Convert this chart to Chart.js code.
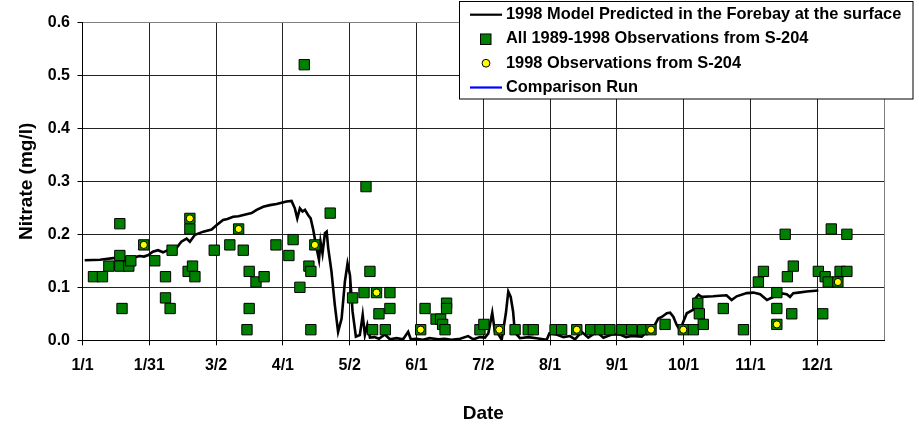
<!DOCTYPE html>
<html><head><meta charset="utf-8">
<script src="https://cdn.jsdelivr.net/npm/chart.js@4/dist/chart.umd.min.js"></script>
<style>html,body{margin:0;padding:0;background:#fff}canvas{display:block}</style>
</head><body>
<canvas id="c" width="919" height="426"></canvas>
<script>
// x axis: day of year (0 = 1/1)
const xTickLabels = ['1/1','1/31','3/2','4/1','5/2','6/1','7/2','8/1','9/1','10/1','11/1','12/1',''];
const xTickDays = [0,30.42,60.83,91.25,121.67,152.08,182.5,212.92,243.33,273.75,304.17,334.58,365];
const yTickValues = [0,0.1,0.2,0.3,0.4,0.5,0.6];
const yTickLabels = ['0.0','0.1','0.2','0.3','0.4','0.5','0.6'];

// 1998 Model Predicted in the Forebay at the surface
const modelDay = [1,8,14,20,24,26,28,30,32,34.4,36.7,39.8,42.8,45,47.4,48.9,51.2,55,58.8,61,64,66,68.6,71,74.7,77,79.3,82.3,85.3,88.4,92.9,95.2,96.7,97.8,99.0,100.2,101.3,102.8,103.9,105.1,106.3,107.7,108.4,109.3,110.4,111.2,111.9,113.4,114.9,116.4,118.0,119.5,120.7,121.8,123.0,124.5,126.3,127.6,128.6,129.7,130.9,133,135,137.7,140,143,146,148.3,149.5,152,155,158,162,165,168,172,175.6,178,181,183.3,184.8,186.6,187.8,189.3,190.9,192.8,193.9,195,196.1,196.9,199.2,203,206.8,211.4,212.6,215.9,219,222,224.3,227.3,230.3,234.2,237.2,241,244.8,247.5,250.1,254.7,257,260,262.2,263.8,266.1,267.6,269.1,270.6,272.1,273.6,275.2,278.2,279.3,280.5,282,287.2,290,293.3,295.6,297.9,302.5,305.5,308.6,311.7,314.7,317.7,320.7,322.2,323.7,326,329.8,335.1];
const modelNitrate = [0.151,0.152,0.155,0.156,0.157,0.159,0.158,0.161,0.167,0.170,0.166,0.172,0.174,0.186,0.192,0.186,0.199,0.205,0.209,0.217,0.227,0.229,0.233,0.234,0.238,0.240,0.246,0.252,0.255,0.257,0.262,0.263,0.249,0.230,0.249,0.243,0.246,0.236,0.230,0.208,0.180,0.152,0.186,0.164,0.202,0.205,0.174,0.129,0.067,0.016,0.041,0.111,0.145,0.123,0.054,0.007,0.010,0.048,0.010,0.029,0.005,0.006,0.003,0.011,0.002,0.004,0.002,0.016,0.002,0.003,0.001,0.004,0.002,0.003,0.001,0.003,0.008,0.002,0.006,0.005,0.013,0.052,0.016,0.012,0.001,0.051,0.092,0.082,0.054,0.015,0.004,0.006,0.004,0.001,0.013,0.011,0.006,0.008,0.002,0.016,0.005,0.016,0.005,0.011,0.011,0.006,0.008,0.007,0.016,0.024,0.041,0.044,0.051,0.052,0.044,0.029,0.019,0.035,0.051,0.058,0.080,0.086,0.082,0.083,0.084,0.085,0.076,0.083,0.089,0.090,0.087,0.076,0.082,0.089,0.087,0.082,0.089,0.090,0.092,0.094];

// All 1989-1998 Observations from S-204
const obsDay = [5.0,9.1,12.0,17.0,17.0,17.0,18.0,21.1,22.0,27.9,32.9,37.8,37.8,39.9,40.8,48.9,48.9,48.1,50.1,51.2,60.0,67.1,71.1,73.2,75.9,75.9,74.9,79.0,82.7,88.1,94.0,95.9,99.0,101.0,103.1,104.0,104.0,105.8,112.8,123.0,128.2,129.1,130.9,132.1,133.9,135.0,137.9,140.0,140.0,154.0,156.0,161.0,163.1,164.0,165.1,165.8,165.8,181.0,182.8,189.8,197.0,203.0,205.3,215.2,218.2,225.1,231.4,235.7,240.2,245.6,250.1,255.1,258.9,265.3,273.6,278.2,280.2,280.9,282.7,291.8,301.0,307.8,310.1,316.2,316.2,316.2,320.0,321.0,323.7,323.0,335.1,338.2,337.1,339.6,341.0,344.0,345.0,348.1,348.1];
const obsNitrate = [0.12,0.12,0.14,0.22,0.16,0.14,0.06,0.14,0.15,0.18,0.15,0.12,0.08,0.06,0.17,0.23,0.21,0.13,0.14,0.12,0.17,0.18,0.21,0.17,0.13,0.06,0.02,0.11,0.12,0.18,0.16,0.19,0.10,0.52,0.14,0.13,0.02,0.18,0.24,0.08,0.09,0.29,0.13,0.02,0.09,0.05,0.02,0.09,0.06,0.02,0.06,0.04,0.04,0.03,0.02,0.07,0.06,0.02,0.03,0.02,0.02,0.02,0.02,0.02,0.02,0.02,0.02,0.02,0.02,0.02,0.02,0.02,0.02,0.03,0.02,0.02,0.07,0.05,0.03,0.06,0.02,0.11,0.13,0.09,0.06,0.03,0.20,0.12,0.14,0.05,0.13,0.12,0.05,0.11,0.21,0.11,0.13,0.20,0.13];

// 1998 Observations from S-204
const obs98Day = [27.9,48.9,71.1,105.8,133.9,154.0,189.8,225.1,258.9,273.6,316.2,344.0];
const obs98Nitrate = [0.18,0.23,0.21,0.18,0.09,0.02,0.02,0.02,0.02,0.02,0.03,0.11];

// Comparison Run (no values visible)
const compDay = [];
const compNitrate = [];

const FONT = '"Liberation Sans", Arial, sans-serif';
const pts = (xs, ys) => xs.map((x, i) => ({x: x, y: ys[i]}));

const legendBox = {
  id: 'legendBox',
  afterDraw(chart) {
    const ctx = chart.ctx;
    ctx.save();
    const x0 = 459.5, y0 = 1.5, w = 453.5, h = 97.5;
    ctx.fillStyle = '#fff';
    ctx.fillRect(x0, y0, w, h);
    ctx.strokeStyle = '#000';
    ctx.lineWidth = 1;
    ctx.strokeRect(x0, y0, w, h);
    ctx.font = 'bold 16.4px ' + FONT;
    ctx.textBaseline = 'middle';
    ctx.textAlign = 'left';
    chart.data.datasets.forEach((ds, i) => {
      const cy = 14.7 + i * 24.27;
      if (ds.showLine) {
        ctx.strokeStyle = ds.borderColor;
        ctx.lineWidth = 2.2;
        ctx.beginPath();
        ctx.moveTo(470, cy);
        ctx.lineTo(502, cy);
        ctx.stroke();
      } else if (ds.pointStyle === 'rect') {
        ctx.fillStyle = ds.backgroundColor;
        ctx.strokeStyle = ds.borderColor;
        ctx.lineWidth = 1;
        ctx.fillRect(480.5, cy - 5, 10.5, 10.5);
        ctx.strokeRect(480.5, cy - 5, 10.5, 10.5);
      } else {
        ctx.fillStyle = ds.backgroundColor;
        ctx.strokeStyle = ds.borderColor;
        ctx.lineWidth = 1;
        ctx.beginPath();
        ctx.arc(486, cy, 3.9, 0, Math.PI * 2);
        ctx.fill();
        ctx.stroke();
      }
      ctx.fillStyle = '#000';
      ctx.fillText(ds.label, 506, cy);
    });
    ctx.restore();
  }
};

new Chart(document.getElementById('c'), {
  type: 'scatter',
  data: {
    datasets: [
      {label: '1998 Model Predicted in the Forebay at the surface', data: pts(modelDay, modelNitrate),
       showLine: true, borderColor: '#000000', borderWidth: 2.6, pointRadius: 0, tension: 0, order: 2},
      {label: 'All 1989-1998 Observations from S-204', data: pts(obsDay, obsNitrate),
       pointStyle: 'rect', pointRadius: 7.3, backgroundColor: '#008000', borderColor: '#000000', borderWidth: 1, order: 1},
      {label: '1998 Observations from S-204', data: pts(obs98Day, obs98Nitrate),
       pointStyle: 'circle', pointRadius: 3.6, backgroundColor: '#FFFF00', borderColor: '#000000', borderWidth: 1, order: 0},
      {label: 'Comparison Run', data: pts(compDay, compNitrate),
       showLine: true, borderColor: '#0000FF', borderWidth: 2.6, pointRadius: 0, order: 3}
    ]
  },
  options: {
    responsive: false,
    animation: false,
    devicePixelRatio: 1,
    layout: {padding: {top: 22.3, right: 35, bottom: 0, left: 0}},
    plugins: {legend: {display: false}, tooltip: {enabled: false}},
    scales: {
      x: {
        type: 'linear', min: 0, max: 365,
        afterFit(s) { s.height = 85.7; },
        afterBuildTicks(s) { s.ticks = xTickDays.map(v => ({value: v})); },
        ticks: {autoSkip: false, maxRotation: 0, minRotation: 0, padding: 10.8, color: '#000',
                font: {family: FONT, size: 16, weight: 'bold'},
                callback: (v, i) => xTickLabels[i]},
        grid: {color: c => (c.index === 12 ? '#808080' : '#222222'),
               tickColor: c => (c.index === 12 ? 'rgba(0,0,0,0)' : '#000000'),
               tickLength: 5, lineWidth: 1},
        border: {color: '#000000', width: 1},
        title: {display: true, text: 'Date', color: '#000',
                font: {family: FONT, size: 19, weight: 'bold'}, padding: {top: 0, bottom: 0.6}}
      },
      y: {
        min: 0, max: 0.6,
        afterFit(s) { s.width = 82.5; },
        afterBuildTicks(s) { s.ticks = yTickValues.map(v => ({value: v})); },
        ticks: {padding: 7.5, color: '#000', font: {family: FONT, size: 16, weight: 'bold'},
                callback: (v, i) => yTickLabels[i]},
        grid: {color: c => (c.index === 6 ? '#808080' : '#222222'), tickColor: '#000000', tickLength: 5, lineWidth: 1},
        border: {color: '#000000', width: 1},
        title: {display: true, text: 'Nitrate (mg/l)', color: '#000',
                font: {family: FONT, size: 19, weight: 'bold'}, padding: {top: 15.6, bottom: 0}}
      }
    }
  },
  plugins: [legendBox]
});
</script>
</body></html>
